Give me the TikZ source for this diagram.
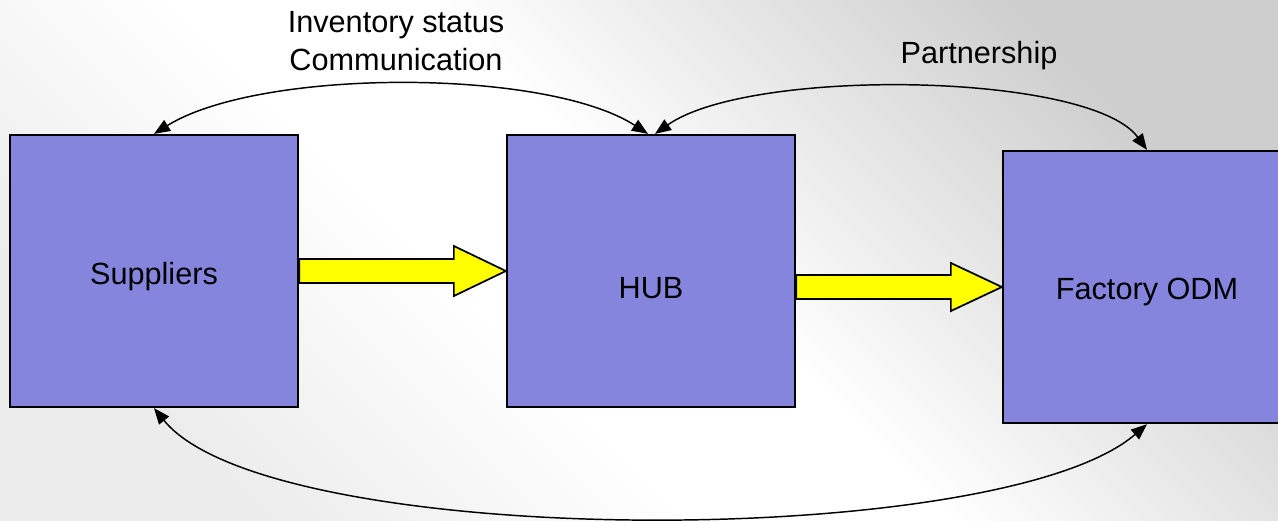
\documentclass[tikz,border=0pt]{standalone}
\usepackage{fontspec}
\setmainfont{Liberation Sans}
\usetikzlibrary{arrows.meta,calc}
\definecolor{boxfill}{RGB}{133,133,222}
\definecolor{bgdark}{RGB}{206,206,206}
\definecolor{bglight}{RGB}{236,236,236}
\definecolor{arrowyellow}{RGB}{255,255,0}
\pgfdeclareverticalshading{bgshade}{100bp}{color(0bp)=(bglight); color(25bp)=(bglight); color(42bp)=(white); color(52bp)=(white); color(75bp)=(bgdark); color(100bp)=(bgdark)}
\begin{document}
\begin{tikzpicture}[x=0.75pt,y=-0.75pt,
  box/.style={draw=black, line width=1.7pt, fill=boxfill, minimum width=216pt, minimum height=204pt, inner sep=0pt},
  lbl/.style={font=\fontsize{23}{28}\selectfont, inner sep=0pt, anchor=base, text=black},
  conn/.style={draw=black, line width=1.1pt, {Triangle[length=12pt,width=9.5pt]}-{Triangle[length=12pt,width=9.5pt]}},
  yarrow/.style={draw=black, fill=arrowyellow, line width=1.3pt, line join=miter}]
\useasboundingbox (0,0) rectangle (1278,521);
\shade[shading=bgshade, shading angle=-45] (0,0) rectangle (1278,521);
% boxes
\node[box] (sup) at (154,271) {};
\node[box] (hub) at (651,271) {};
\node[box] (fac) at (1147,287) {};
% labels in boxes
\node[lbl] (supt) at (154,284) {Suppliers};
\node[lbl] (hubt) at (651,298) {HUB};
\node[lbl] (fact) at (1147,299) {Factory ODM};
% yellow block arrows
\draw[yarrow] ($(sup.east)+(0,-12)$) -- ($(hub.west)+(-52,-12)$) -- ($(hub.west)+(-52,-25)$) -- (hub.west)
  -- ($(hub.west)+(-52,25)$) -- ($(hub.west)+(-52,12)$) -- ($(sup.east)+(0,12)$) -- cycle;
\draw[yarrow] ($(hub.east |- fac.west)+(0,-12)$) -- ($(fac.west)+(-51,-12)$) -- ($(fac.west)+(-51,-24)$) -- (fac.west)
  -- ($(fac.west)+(-51,24)$) -- ($(fac.west)+(-51,12)$) -- ($(hub.east |- fac.west)+(0,12)$) -- cycle;
% curved connectors
\draw[conn] (sup.north) .. controls (260,68) and (546,68) .. ($(hub.north)+(-3,0)$);
\draw[conn] ($(hub.north)+(4,0)$) .. controls (750,67) and (1090,72) .. (fac.north);
\draw[conn] (sup.south) .. controls (270,551) and (1000,551) .. (fac.south);
% top labels
\node[lbl] (inv) at (396,32) {Inventory status};
\node[lbl] (com) at (396,70) {Communication};
\node[lbl] (par) at (979,63) {Partnership};
\end{tikzpicture}
\end{document}
